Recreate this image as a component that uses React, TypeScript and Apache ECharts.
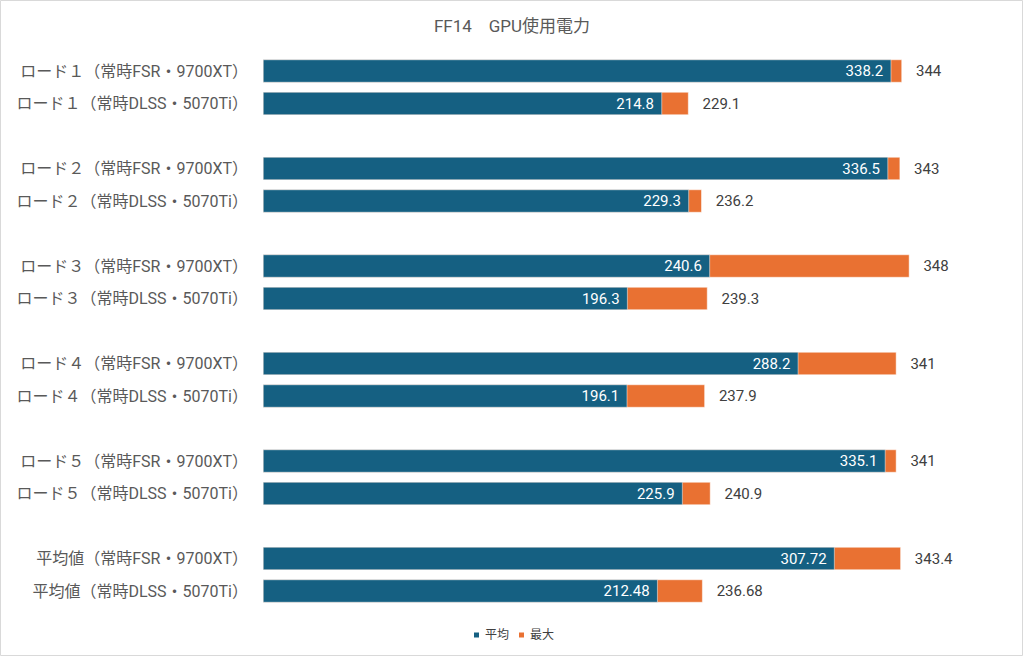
import React, { useEffect, useRef } from "react";
import * as echarts from "echarts";

const groups = ["ロード１", "ロード２", "ロード３", "ロード４", "ロード５", "平均値"];
const variants = ["（常時FSR・9700XT）", "（常時DLSS・5070Ti）"];
const avgValues = [
  [338.2, 214.8],
  [336.5, 229.3],
  [240.6, 196.3],
  [288.2, 196.1],
  [335.1, 225.9],
  [307.72, 212.48],
];
const maxValues = [
  [344, 229.1],
  [343, 236.2],
  [348, 239.3],
  [341, 237.9],
  [341, 240.9],
  [343.4, 236.68],
];
const title = "FF14　GPU使用電力";
const seriesNames = ["平均", "最大"];

const FONT = "Roboto, 'Noto Sans CJK JP', 'Noto Sans', sans-serif";

export default function App() {
  const ref = useRef<HTMLDivElement>(null);
  useEffect(() => {
    document.body.style.margin = "0";
    const chart = echarts.init(ref.current!, undefined, { renderer: "svg" });
    const categories: string[] = [];
    const avg: (number | string)[] = [];
    const max: (number | string)[] = [];
    groups.forEach((g, gi) => {
      if (gi > 0) {
        categories.push("");
        avg.push("-");
        max.push("-");
      }
      variants.forEach((v, vi) => {
        categories.push(g + v);
        avg.push(avgValues[gi][vi]);
        max.push(maxValues[gi][vi]);
      });
    });
    chart.setOption({
      animation: false,
      textStyle: { fontFamily: FONT },
      title: {
        text: title,
        left: "center",
        top: 12,
        textStyle: { fontFamily: FONT, fontSize: 17, fontWeight: "normal", color: "#595959" },
      },
      legend: {
        data: [seriesNames[0], seriesNames[1]],
        bottom: 11,
        left: 467,
        itemWidth: 7,
        itemHeight: 7,
        itemGap: 8,
        icon: "rect",
        textStyle: { fontFamily: FONT, fontSize: 12, color: "#404040", padding: [0, 0, 0, 0] },
      },
      grid: { left: 263, right: 18, top: 54.75, bottom: 49.75, containLabel: false },
      xAxis: {
        type: "value",
        min: 0,
        max: 400,
        show: false,
        splitLine: { show: false },
      },
      yAxis: {
        type: "category",
        data: categories,
        inverse: true,
        axisLine: { show: false },
        axisTick: { show: false },
        axisLabel: { fontFamily: FONT, fontSize: 16, color: "#595959", margin: 15 },
      },
      graphic: [
        {
          type: "rect",
          shape: { x: 0.5, y: 0.5, width: 1022, height: 655 },
          style: { fill: "none", stroke: "#d9d9d9", lineWidth: 1 },
          silent: true,
        },
      ],
      series: [
        {
          name: seriesNames[1],
          type: "bar",
          data: max,
          barWidth: 23,
          barGap: "-100%",
          itemStyle: { color: "#E97132", borderColor: "#ffffff", borderWidth: 0.5 },
          label: {
            show: true,
            position: "right",
            distance: 14,
            fontFamily: FONT,
            fontSize: 15,
            color: "#404040",
          },
          z: 2,
        },
        {
          name: seriesNames[0],
          type: "bar",
          data: avg,
          barWidth: 23,
          barGap: "-100%",
          itemStyle: { color: "#156082", borderColor: "#ffffff", borderWidth: 0.5 },
          label: {
            show: true,
            position: "insideRight",
            distance: 8,
            fontFamily: FONT,
            fontSize: 15,
            color: "#ffffff",
          },
          z: 3,
        },
      ],
    });
    return () => chart.dispose();
  }, []);
  return <div ref={ref} style={{ width: 1024, height: 657 }} />;
}
